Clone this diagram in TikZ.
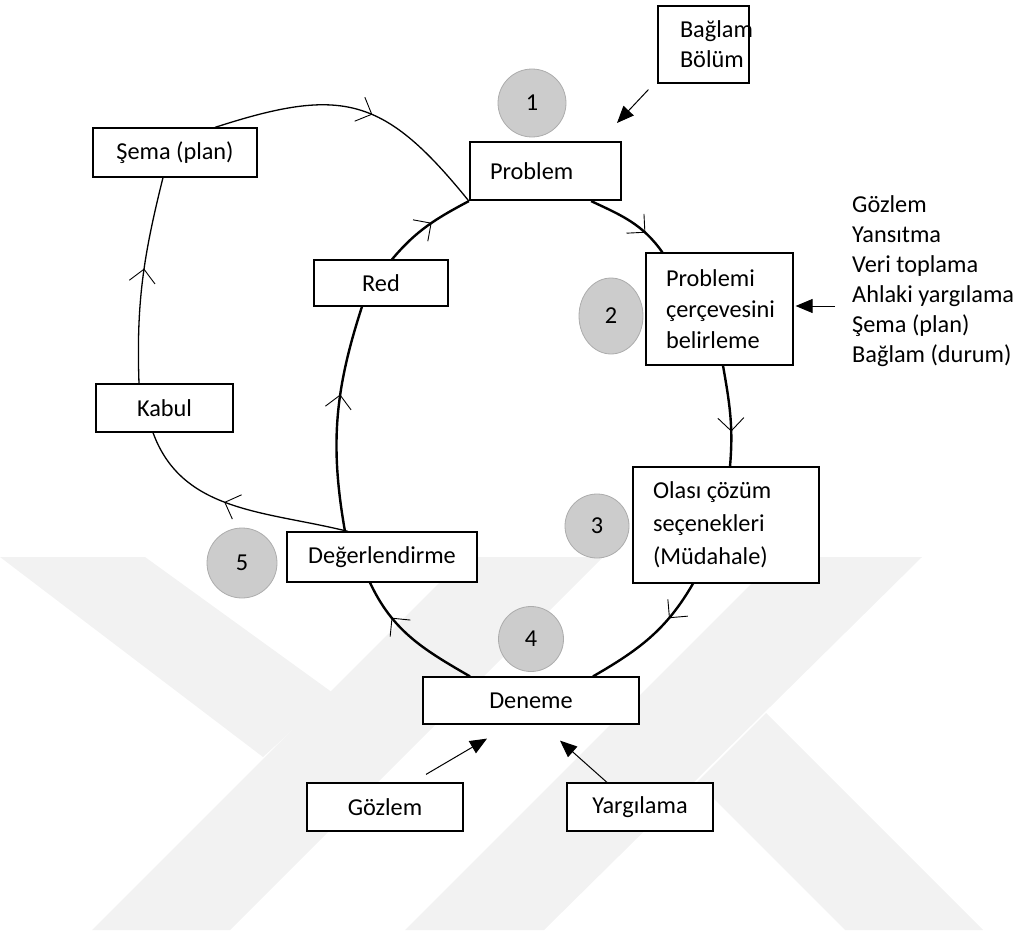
\documentclass[tikz,border=0pt]{standalone}
\usepackage{fontspec}
\setmainfont{Carlito}
\usetikzlibrary{arrows.meta,decorations.markings,shapes.geometric}
\definecolor{wm}{RGB}{242,242,242}
\definecolor{cfill}{RGB}{204,204,204}
\definecolor{cline}{RGB}{172,172,172}
\newcommand\fsz[1]{\fontsize{24.3pt}{#1}\selectfont}
\tikzset{
  box/.style={draw=black, line width=1.2pt, fill=white, inner sep=0pt, font=\fsz{30pt}},
  thickbox/.style={box, line width=2.2pt},
  numc/.style={circle, draw=cline, fill=cfill, line width=0.8pt, inner sep=0pt, font=\fsz{30pt}},
  cyc/.style={line width=2.4pt},
  loopline/.style={line width=1.3pt},
  midmark/.style={postaction={decorate, decoration={markings, mark=at position #1 with {\draw[line width=0.9pt] (-13pt,-13pt) -- (0pt,0pt) -- (-13pt,13pt);}}}},
  arr/.style={line width=1pt, -{Triangle[length=17pt,width=14pt]}},
  plain/.style={inner sep=0pt, font=\fsz{30pt}}
}
\begin{document}
\begin{tikzpicture}[x=1pt,y=-1pt]
\useasboundingbox (0,0) rectangle (1018,934);
% faint watermark
\fill[wm] (0,557) -- (145,557) -- (333,693) -- (263,757) -- cycle;
\fill[wm] (92,930) -- (230,930) -- (603,557) -- (465,557) -- cycle;
\fill[wm] (405,930) -- (544,930) -- (922,557) -- (778,557) -- cycle;
\fill[wm] (766,713) -- (983,930) -- (845,930) -- (697,782) -- cycle;

% boxes
\node[box, minimum width=91pt, minimum height=77pt, text width=91pt, align=flush left] (bb) at (703.5,44.5) {\hspace*{22pt}Bağlam\\\hspace*{22pt}Bölüm};
\node[thickbox, minimum width=151pt, minimum height=58pt, inner xsep=20pt, text width=111pt, align=flush left] (problem) at (545.5,171) {Problem};
\node[box, minimum width=147pt, minimum height=112pt, inner xsep=20pt, text width=107pt, align=flush left, font=\fsz{31pt}] (problemi) at (719.5,309) {Problemi\\çerçevesini\\belirleme};
\node[box, minimum width=186pt, minimum height=116pt, inner xsep=20pt, text width=146pt, align=flush left, font=\fsz{33pt}] (olasi) at (726,525) {Olası çözüm\\seçenekleri\\(Müdahale)};
\node[box, minimum width=134pt, minimum height=46pt] (red) at (381,283) {Red};
\node[box, minimum width=164pt, minimum height=49pt] (sema) at (175,152.5) {Şema (plan)};
\node[box, minimum width=137pt, minimum height=48pt] (kabul) at (164.5,408) {Kabul};
\node[box, minimum width=190pt, minimum height=50pt] (deg) at (382,557) {Değerlendirme};
\node[box, minimum width=216pt, minimum height=47pt] (deneme) at (531,700.5) {Deneme};
\node[box, minimum width=156pt, minimum height=48pt] (gozlem) at (385,807) {Gözlem};
\node[box, minimum width=146pt, minimum height=48pt] (yarg) at (640,807) {Yargılama};

\node[plain, anchor=north west, align=left] (inputs) at (852,195) {Gözlem\\Yansıtma\\Veri toplama\\Ahlaki yargılama\\Şema (plan)\\Bağlam (durum)};

% numbered circles
\node[numc, minimum size=68pt] (n1) at (532,103) {1};
\node[ellipse, draw=cline, fill=cfill, line width=0.8pt, inner sep=0pt, minimum width=64pt, minimum height=76pt, font=\fsz{30pt}] (n2) at (611,316) {2};
\node[numc, minimum size=64pt] (n3) at (597,526) {3};
\node[numc, minimum size=65pt] (n4) at (531,639) {4};
\node[numc, minimum size=70pt] (n5) at (242,563) {5};

% main cycle
\draw[cyc, midmark=0.7] ([xshift=-31pt]problem.south east) to[out=-25,in=125] ([xshift=17pt]problemi.north west);
\draw[cyc, midmark=0.65] ([xshift=3.5pt]problemi.south) to[out=-80,in=85] ([xshift=4pt]olasi.north);
\draw[cyc, midmark=0.3] ([xshift=-33pt]olasi.south) to[out=-120,in=30] ([xshift=62pt]deneme.north);
\draw[cyc, midmark=0.7] ([xshift=-61pt]deneme.north) to[out=150,in=-65] ([xshift=-12pt]deg.south);
\draw[cyc, midmark=0.6] ([xshift=-37pt]deg.north) to[out=100,in=-108] ([xshift=-19pt]red.south);
\draw[cyc, midmark=0.55] ([xshift=11pt]red.north) to[out=50,in=-152] (problem.south west);

% outer loop
\draw[loopline, midmark=0.55] ([xshift=-34pt]deg.north) to[out=166,in=-70] ([xshift=-11.5pt]kabul.south);
\draw[loopline, midmark=0.55] ([xshift=-25.5pt]kabul.north) to[out=92,in=-104] ([xshift=-12pt]sema.south);
\draw[loopline, midmark=0.55] ([xshift=40pt]sema.north) to[out=18,in=129,looseness=1.3] (problem.south west);

% input arrows
\coordinate (ba) at (617,123);
\coordinate (la) at (835,306);
\draw[arr] ([shift={(-9pt,-6pt)}]bb.south west) -- (ba);
\draw[arr] (la) -- ([shift={(2pt,3pt)}]problemi.east);
\draw[arr] ([shift={(41pt,8pt)}]gozlem.north) -- ([shift={(-44pt,-14pt)}]deneme.south);
\draw[arr] ([xshift=-33pt]yarg.north) -- ([shift={(29pt,-16pt)}]deneme.south);
\end{tikzpicture}
\end{document}
